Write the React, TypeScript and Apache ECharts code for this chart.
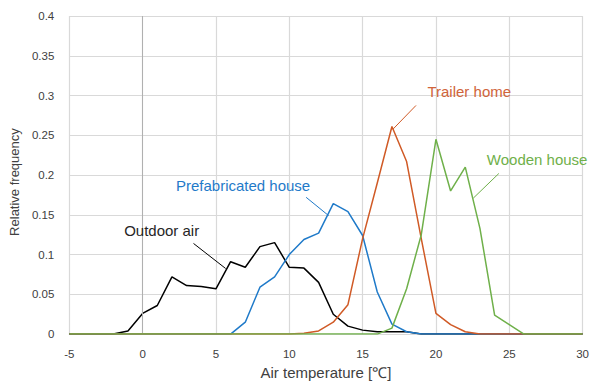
import React, { useEffect, useRef } from "react";
import * as echarts from "echarts";

const temperatures = [-5, -4, -3, -2, -1, 0, 1, 2, 3, 4, 5, 6, 7, 8, 9, 10, 11, 12, 13, 14, 15, 16, 17, 18, 19, 20, 21, 22, 23, 24, 25, 26, 27, 28, 29, 30];

const outdoorAir = [0, 0, 0, 0, 0.004, 0.026, 0.036, 0.072, 0.061, 0.06, 0.057, 0.091, 0.084, 0.11, 0.115, 0.084, 0.083, 0.065, 0.025, 0.01, 0.005, 0.003, 0.003, 0.003, 0, 0, 0, 0, 0, 0, 0, 0, 0, 0, 0, 0];
const prefabricatedHouse = [0, 0, 0, 0, 0, 0, 0, 0, 0, 0, 0, 0, 0.015, 0.059, 0.072, 0.1, 0.119, 0.127, 0.164, 0.154, 0.124, 0.053, 0.0125, 0.003, 0, 0, 0, 0, 0, 0, 0, 0, 0, 0, 0, 0];
const trailerHome = [0, 0, 0, 0, 0, 0, 0, 0, 0, 0, 0, 0, 0, 0, 0, 0, 0.001, 0.004, 0.015, 0.037, 0.12, 0.19, 0.261, 0.217, 0.12, 0.026, 0.012, 0.003, 0, 0, 0, 0, 0, 0, 0, 0];
const woodenHouse = [0, 0, 0, 0, 0, 0, 0, 0, 0, 0, 0, 0, 0, 0, 0, 0, 0, 0, 0, 0, 0, 0, 0.0075, 0.057, 0.125, 0.245, 0.18, 0.21, 0.133, 0.024, 0.012, 0, 0, 0, 0, 0];

const seriesNames = ["Outdoor air", "Prefabricated house", "Trailer home", "Wooden house"];
// label anchor [temperature, frequency] and leader line [from, to] in data units
const labelAnchors = [[1.3, 0.13], [6.85, 0.187], [22.27, 0.305], [26.9, 0.22]];
const leaderLines = [
  [[3.47, 0.114], [5.66, 0.0825]],
  [[11.15, 0.172], [12.68, 0.149]],
  [[18.64, 0.2875], [17.06, 0.2575]],
  [[24.29, 0.202], [22.55, 0.171]],
];

const lineColors = ["#000000", "#1f7ac9", "#d05a26", "#6fb04a"];
const labelColors = ["#262626", "#1f7ac9", "#d0643a", "#6fb04a"];

export default function App() {
  const ref = useRef<HTMLDivElement>(null);
  useEffect(() => {
    if (!ref.current) return;
    const chart = echarts.init(ref.current, null, { renderer: "svg" });
    const allData = [outdoorAir, prefabricatedHouse, trailerHome, woodenHouse];
    const series: any[] = allData.map((vals, i) => ({
      name: seriesNames[i],
      type: "line",
      data: temperatures.map((t, k) => [t, vals[k]]),
      showSymbol: false,
      symbol: "none",
      lineStyle: { color: lineColors[i], width: 1.5 },
      itemStyle: { color: lineColors[i] },
      z: 3 + i,
      markPoint: {
        silent: true,
        symbol: "circle",
        symbolSize: 0,
        data: [
          {
            coord: labelAnchors[i],
            label: {
              show: true,
              position: "inside",
              formatter: seriesNames[i],
              color: labelColors[i],
              fontSize: 15,
              fontFamily: "Liberation Sans, Arial, sans-serif",
            },
          },
        ],
      },
      markLine: {
        silent: true,
        symbol: "none",
        label: { show: false },
        lineStyle: { color: lineColors[i], width: 1, type: "solid" },
        data: [[{ coord: leaderLines[i][0] }, { coord: leaderLines[i][1] }]],
      },
    }));
    // darker vertical axis line at 0
    series.push({
      type: "line",
      data: [],
      markLine: {
        silent: true,
        symbol: "none",
        label: { show: false },
        lineStyle: { color: "#b0b0b0", width: 1, type: "solid" },
        data: [{ xAxis: 0 }],
      },
      z: 2,
    });
    chart.setOption({
      animation: false,
      backgroundColor: "#ffffff",
      grid: { left: 68, right: 7, top: 16, bottom: 49, containLabel: false },
      xAxis: {
        type: "value",
        min: -5,
        max: 30,
        interval: 5,
        name: "Air temperature [℃]",
        nameLocation: "middle",
        nameGap: 29,
        nameTextStyle: { color: "#404040", fontSize: 15, fontFamily: "Liberation Sans, Arial, sans-serif" },
        axisLine: { show: true, onZero: false, lineStyle: { color: "#d9d9d9" } },
        axisTick: { show: false },
        axisLabel: { color: "#404040", fontSize: 11.5, margin: 14, fontFamily: "Liberation Sans, Arial, sans-serif" },
        splitLine: { show: true, lineStyle: { color: "#d9d9d9", width: 1.2 } },
      },
      yAxis: {
        type: "value",
        min: 0,
        max: 0.4,
        interval: 0.05,
        name: "Relative frequency",
        nameLocation: "middle",
        nameGap: 45,
        nameTextStyle: { color: "#404040", fontSize: 13, fontFamily: "Liberation Sans, Arial, sans-serif", padding: [0, 14, 0, 0] },
        axisLine: { show: false },
        axisTick: { show: false },
        axisLabel: { color: "#404040", fontSize: 11.5, margin: 15, fontFamily: "Liberation Sans, Arial, sans-serif" },
        splitLine: { show: true, lineStyle: { color: "#d9d9d9", width: 1.2 } },
      },
      series,
    });
    return () => chart.dispose();
  }, []);
  return <div ref={ref} style={{ width: 592, height: 385, position: "absolute", left: 0, top: 0 }} />;
}
